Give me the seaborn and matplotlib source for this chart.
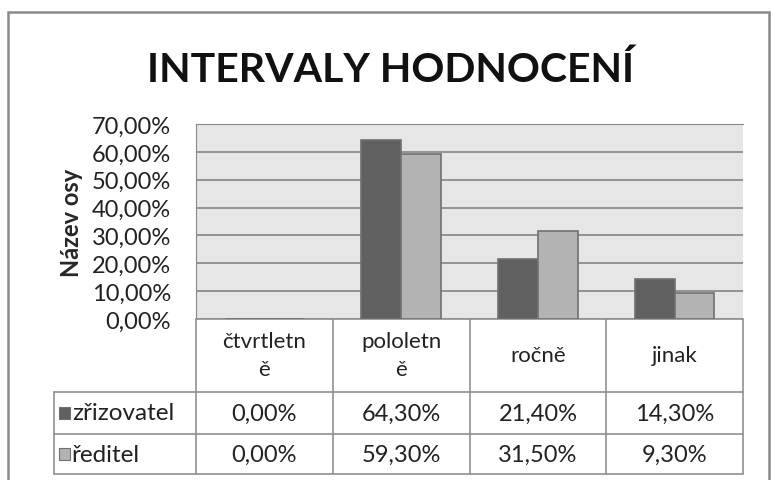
import numpy as np
import pandas as pd
import matplotlib
matplotlib.use('Agg')
import matplotlib.pyplot as plt
import matplotlib.transforms as mtransforms
from matplotlib.patches import Rectangle
import seaborn as sns

# data
categories = ['čtvrtletně', 'pololetně', 'ročně', 'jinak']
header_labels = ['čtvrtletn\ně', 'pololetn\ně', 'ročně', 'jinak']
series = ['zřizovatel', 'ředitel']
zrizovatel = [0.0, 64.3, 21.4, 14.3]
reditel = [0.0, 59.3, 31.5, 9.3]
y_ticks = [0, 10, 20, 30, 40, 50, 60, 70]

colors = ['#606060', '#b3b3b3']

df = pd.DataFrame({
    'kategorie': categories * 2,
    'rada': [series[0]] * 4 + [series[1]] * 4,
    'hodnota': zrizovatel + reditel,
})

sns.set_style('white')
plt.rcParams['font.family'] = ['Lato', 'DejaVu Sans']

W, H = 771, 481
fig = plt.figure(figsize=(W / 100, H / 100), dpi=100)

# plot area in pixels
left, right, top, bottom = 196, 743, 125, 320
ax = fig.add_axes([left / W, 1 - bottom / H, (right - left) / W, (bottom - top) / H])
ax.set_facecolor('#e6e6e6')

sns.barplot(data=df, x='kategorie', y='hodnota', hue='rada', palette=colors,
            width=0.58, edgecolor='#707070', linewidth=1.2, ax=ax, legend=False,
            zorder=3)

ax.set_ylim(0, 70)
ax.set_xlim(-0.5, 3.5)
ax.set_yticks(y_ticks)
ax.set_yticklabels([f'{v:.2f}%'.replace('.', ',') for v in y_ticks], fontsize=17, color='#222222')
ax.tick_params(axis='y', length=0, pad=18)
ax.set_xticks([])
ax.set_xlabel('')
ax.set_ylabel('Název osy', fontsize=17, fontweight='bold', labelpad=6)
ax.grid(axis='y', color='#858585', linewidth=1.2, zorder=1)
for s in ['top', 'right', 'left']:
    ax.spines[s].set_color('#8a8a8a')
ax.spines['right'].set_visible(False)
ax.spines['bottom'].set_visible(False)

# table under the plot area
ph = bottom - top
def yax(py):
    return (bottom - py) / ph

trans = mtransforms.blended_transform_factory(ax.transData, ax.transAxes)
line_c = '#909090'
x_leg = -0.5 - (left - 54) / ((right - left) / 4)
row_y = [yax(320), yax(393), yax(435), yax(475)]

# horizontal lines
ax.plot([-0.5, 3.5], [row_y[0]] * 2, transform=trans, color=line_c, lw=1.2, clip_on=False)
for ry in row_y[1:]:
    ax.plot([x_leg, 3.5], [ry] * 2, transform=trans, color=line_c, lw=1.2, clip_on=False)
# vertical lines
for k in range(5):
    ax.plot([k - 0.5] * 2, [row_y[0], row_y[3]], transform=trans, color=line_c, lw=1.2, clip_on=False)
ax.plot([x_leg] * 2, [row_y[1], row_y[3]], transform=trans, color=line_c, lw=1.2, clip_on=False)

# header labels
for i, lab in enumerate(header_labels):
    ax.text(i, yax(356), lab, transform=trans, ha='center', va='center',
            fontsize=16, color='#222222', linespacing=1.45)

# value rows
for r, (name, vals) in enumerate(zip(series, [zrizovatel, reditel])):
    yc = (row_y[r + 1] + row_y[r + 2]) / 2
    for i, v in enumerate(vals):
        ax.text(i, yc, f'{v:.2f}%'.replace('.', ','), transform=trans, ha='center', va='center',
                fontsize=17, color='#222222')
    sq = 0.085
    ax.add_patch(Rectangle((x_leg + 0.035, yc - 0.032), sq, 0.064, transform=trans,
                           facecolor=colors[r], edgecolor='#707070', lw=0.8, clip_on=False))
    ax.text(x_leg + 0.035 + sq + 0.012, yc, name, transform=trans, ha='left', va='center',
            fontsize=17.5, color='#222222')

fig.text(391 / W, 1 - 70 / H, 'INTERVALY HODNOCENÍ', ha='center', va='center',
         fontsize=29.5, fontweight='bold', color='#111111')

# outer frame
fig.patches.append(Rectangle((8 / W, -0.02), 1 - 10 / W, 1 - 13 / H + 0.02, transform=fig.transFigure,
                             fill=False, edgecolor='#8a8a8a', lw=1.8))

fig.savefig('out.png', dpi=100)
